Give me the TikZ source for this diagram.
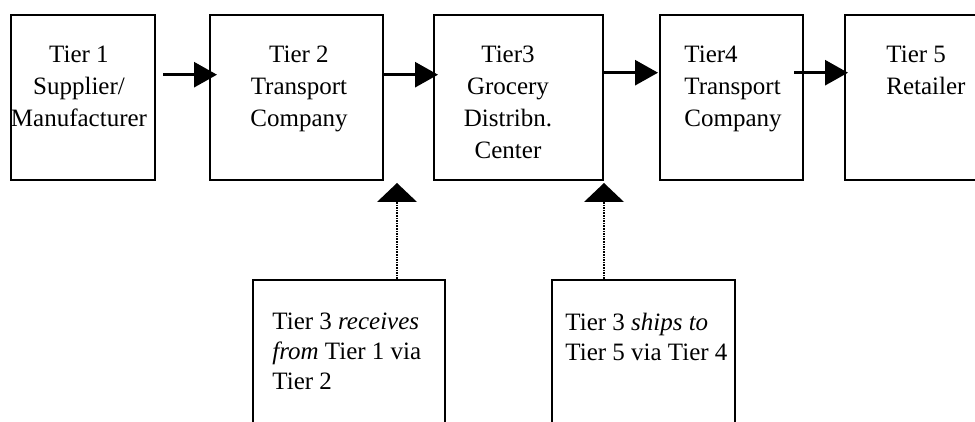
\documentclass[tikz,border=0pt]{standalone}
\usepackage{fontspec}
\setmainfont{Liberation Serif}
\usetikzlibrary{arrows.meta,calc}

\tikzset{
  tierbox/.style={draw, line width=1.2pt, anchor=north west, inner sep=0pt, minimum height=82.5pt},
  tiertext/.style={anchor=north, inner sep=0pt, font=\fontsize{12.5}{16}\selectfont},
  notetext/.style={anchor=north west, inner sep=0pt, align=left, font=\fontsize{12.5}{15}\selectfont},
  flow/.style={line width=1.4pt, -{Triangle[length=11.5pt,width=12.5pt]}},
  feed/.style={line width=1.4pt, dash pattern={on 0.8pt off 0.5pt}, -{Triangle[length=9.5pt,width=20pt,line width=0pt]}}
}

\begin{document}
\begin{tikzpicture}[x=0.5pt,y=0.5pt,yscale=-1,xscale=1]
\useasboundingbox (0,0) rectangle (975,422);
\clip (0,0) rectangle (975,422);

%Boxes
\node [tierbox, minimum width=72pt] (t1) at (10,14) {};
\node [tierbox, minimum width=86.5pt] (t2) at (209,14) {};
\node [tierbox, minimum width=84.5pt] (t3) at (433,14) {};
\node [tierbox, minimum width=71.5pt] (t4) at (659,14) {};
\node [tierbox, minimum width=100pt] (t5) at (844,14) {};
\node [tierbox, minimum width=96pt, minimum height=100pt] (n1) at (252,279) {};
\node [tierbox, minimum width=91.5pt, minimum height=100pt] (n2) at (551,279) {};

% Text Node
\node [tiertext, align=center] (t1txt) at (79,46) {Tier 1\\Supplier/\\Manufacturer};
\node [tiertext, align=center] (t2txt) at (299,46) {Tier 2\\Transport\\Company};
\node [tiertext, align=center] (t3txt) at (508,46) {Tier3\\Grocery\\Distribn.\\Center};
\node [tiertext, anchor=north west, align=left] (t4txt) at (684,46) {Tier4\\Transport\\Company};
\node [tiertext, anchor=north west, align=left] (t5txt) at (886,46) {Tier 5\\Retailer};
\node [notetext] (n1txt) at (272,313) {Tier 3 \textit{receives}\\\textit{from} Tier 1 via\\Tier 2};
\node [notetext] (n2txt) at (565,313) {Tier 3 \textit{ships to}\\Tier 5 via Tier 4};

%Straight Lines
\draw [flow] ($(t1.east)+(7,-23)$) -- ($(t2.west)+(8,-23)$);
\draw [flow] ($(t2.east)+(0,-23)$) -- ($(t3.west)+(5,-23)$);
\draw [flow] ($(t3.east)+(0,-25)$) -- ($(t4.west)+(-1,-25)$);
\draw [flow] ($(t4.east)+(-10,-25)$) -- ($(t5.west)+(4,-25)$);

%Dotted Lines
\coordinate (up1) at (397,183);
\coordinate (up2) at (604,183);
\draw [feed] (n1.north -| up1) -- (up1);
\draw [feed] (n2.north -| up2) -- (up2);

\end{tikzpicture}
\end{document}
